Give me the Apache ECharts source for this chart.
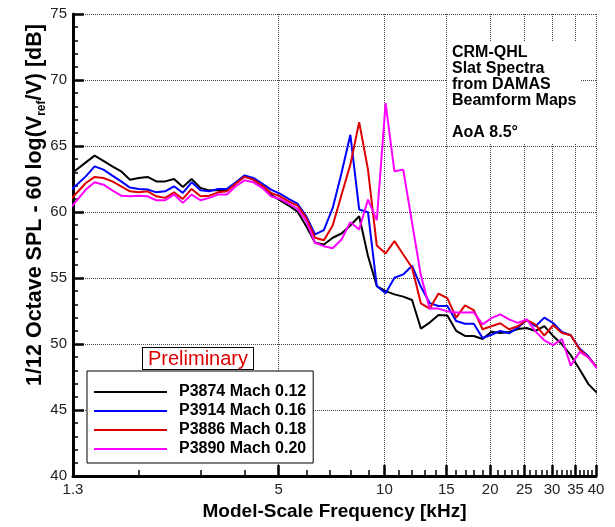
<!DOCTYPE html>
<html>
<head>
<meta charset="utf-8">
<title>CRM-QHL Slat Spectra</title>
<script src="https://cdn.jsdelivr.net/npm/echarts@6/dist/echarts.min.js"></script>
<style>
  html, body { margin: 0; padding: 0; background: #fff; }
  #main { width: 615px; height: 527px; }
</style>
</head>
<body>
<div id="main"></div>
<script>
// 1/12-octave band centres [kHz]
var freqKHz = [1.260, 1.335, 1.414, 1.498, 1.587, 1.682, 1.782, 1.888, 2.000, 2.119,
  2.245, 2.378, 2.520, 2.670, 2.828, 2.997, 3.175, 3.364, 3.564, 3.776,
  4.000, 4.238, 4.490, 4.757, 5.040, 5.339, 5.657, 5.993, 6.350, 6.727,
  7.127, 7.551, 8.000, 8.476, 8.980, 9.514, 10.079, 10.679, 11.314, 11.986,
  12.699, 13.454, 14.254, 15.102, 16.000, 16.951, 17.959, 19.027, 20.159, 21.357,
  22.627, 23.973, 25.398, 26.909, 28.509, 30.204, 32.000, 33.903, 35.919, 38.055,
  40.317];

// normalized SPL [dB], one value per band
var p3874 = [62.72, 63.24, 63.76, 64.27, 63.87, 63.46, 63.08, 62.45, 62.58, 62.66,
  62.32, 62.32, 62.5, 61.9, 62.5, 61.83, 61.64, 61.64, 61.64, 62.2,
  62.76, 62.45, 61.95, 61.32, 60.89, 60.49, 60.03, 58.92, 57.67, 57.54,
  58.05, 58.37, 58.98, 59.68, 56.66, 54.39, 54.01, 53.76, 53.59, 53.33,
  51.17, 51.62, 52.2, 52.15, 51.0, 50.61, 50.61, 50.38, 50.93, 50.84,
  50.91, 51.14, 51.21, 50.99, 51.36, 50.61, 49.98, 49.15, 48.09, 46.96,
  46.28];
var p3914 = [61.47, 62.08, 62.7, 63.46, 63.21, 62.75, 62.32, 61.85, 61.75, 61.7,
  61.49, 61.57, 61.95, 61.45, 62.25, 61.64, 61.57, 61.75, 61.75, 62.25,
  62.76, 62.58, 62.15, 61.7, 61.39, 60.99, 60.64, 59.68, 58.3, 58.62,
  60.31, 62.96, 65.85, 60.19, 59.98, 54.39, 53.84, 55.02, 55.27, 55.93,
  54.33, 53.1, 52.88, 52.88, 51.74, 51.53, 51.53, 50.45, 50.7, 50.99,
  50.81, 51.24, 51.82, 51.34, 52.0, 51.59, 50.91, 50.66, 49.66, 49.07,
  48.17];
var p3886 = [60.76, 61.48, 62.2, 62.66, 62.58, 62.32, 61.95, 61.57, 61.49, 61.57,
  61.19, 61.07, 61.49, 60.99, 61.75, 61.19, 61.24, 61.49, 61.57, 62.15,
  62.66, 62.45, 62.0, 61.45, 61.19, 60.81, 60.49, 59.56, 58.05, 57.86,
  58.98, 61.3, 63.59, 66.81, 63.21, 57.46, 56.86, 57.79, 56.78, 55.78,
  53.08, 52.68, 53.82, 53.48, 52.0, 52.93, 52.57, 51.12, 51.34, 51.57,
  51.12, 51.34, 51.82, 51.46, 50.64, 51.42, 50.84, 50.66, 49.58, 49.0,
  48.2];
var p3890 = [60.12, 60.9, 61.7, 62.25, 62.07, 61.64, 61.24, 61.19, 61.24, 61.19,
  60.89, 60.89, 61.32, 60.69, 61.32, 60.89, 61.07, 61.32, 61.32, 61.95,
  62.4, 62.25, 61.83, 61.19, 60.99, 60.64, 60.24, 59.3, 57.67, 57.41,
  57.25, 57.92, 59.23, 58.67, 60.94, 59.38, 68.25, 63.08, 63.21, 59.2,
  55.2, 52.68, 52.68, 52.48, 52.38, 52.38, 52.4, 51.49, 51.96, 52.25,
  51.87, 51.6, 51.87, 50.96, 50.28, 49.91, 50.38, 48.36, 49.4, 48.98,
  48.14];

var seriesNames = ['P3874 Mach 0.12', 'P3914 Mach 0.16', 'P3886 Mach 0.18', 'P3890 Mach 0.20'];
var seriesValues = [p3874, p3914, p3886, p3890];
var seriesColors = ['#000000', '#0000ff', '#dd0000', '#ff00ff'];

var xLabelValues = [1.3, 5, 10, 15, 20, 25, 30, 35, 40];
var xMajorTicks = [5, 10, 15, 20, 25, 30, 35, 40];
var xMinorTicks = [2, 3, 4, 6, 7, 8, 9, 11, 12, 13, 14, 16, 17, 18, 19, 21, 22, 23, 24,
  26, 27, 28, 29, 31, 32, 33, 34, 36, 37, 38, 39];

var font = '"Liberation Sans", Arial, Helvetica, sans-serif';

function pairs(vals) {
  return freqKHz.map(function (f, i) { return [f, vals[i]]; });
}

var chart = echarts.init(document.getElementById('main'));

var gridLine = { show: true, lineStyle: { type: 'dotted', color: '#444', width: 1 } };

var option = {
  animation: false,
  backgroundColor: '#fff',
  grid: { left: 73, right: 19, top: 14, bottom: 51, containLabel: false, outerBoundsMode: 'none' },
  xAxis: [{
    type: 'log',
    logBase: 10,
    min: 1.3,
    max: 40,
    position: 'bottom',
    axisLine: { show: true, onZero: false, lineStyle: { color: '#000', width: 3 } },
    axisTick: { show: true, inside: true, length: 11, customValues: xMajorTicks,
      lineStyle: { color: '#000', width: 2.5 } },
    axisLabel: { show: true, customValues: xLabelValues, hideOverlap: false, margin: 6,
      color: '#222', fontSize: 15, fontFamily: font,
      formatter: function (v) { return String(Math.round(v * 10) / 10); } },
    splitLine: gridLine,
    minorTick: { show: false },
    minorSplitLine: { show: false },
    name: 'Model-Scale Frequency [kHz]',
    nameLocation: 'middle',
    nameGap: 24,
    nameTextStyle: { fontSize: 19, fontWeight: 'bold', color: '#000', fontFamily: font }
  }, {
    type: 'log',
    logBase: 10,
    min: 1.3,
    max: 40,
    position: 'bottom',
    axisLine: { show: false, onZero: false },
    axisTick: { show: true, inside: true, length: 6, customValues: xMinorTicks,
      lineStyle: { color: '#000', width: 1.5 } },
    axisLabel: { show: false },
    splitLine: { show: false }
  }],
  yAxis: {
    type: 'value',
    min: 40,
    max: 75,
    interval: 5,
    axisLine: { show: true, onZero: false, lineStyle: { color: '#000', width: 3 } },
    axisTick: { show: true, inside: true, length: 11, lineStyle: { color: '#000', width: 2.5 } },
    minorTick: { show: true, splitNumber: 5, length: 5, lineStyle: { color: '#000', width: 1.5 } },
    axisLabel: { margin: 6, color: '#222', fontSize: 15, fontFamily: font },
    splitLine: gridLine
  },
  legend: {
    orient: 'vertical',
    left: 87,
    top: 371,
    padding: [13, 7, 6, 7],
    itemGap: 3,
    icon: 'rect',
    itemWidth: 73,
    itemHeight: 2,
    backgroundColor: '#fff',
    borderColor: '#000',
    borderWidth: 1,
    borderRadius: 0,
    textStyle: { fontSize: 16, fontWeight: 'bold', color: '#000', fontFamily: font,
      lineHeight: 16, padding: [0, 0, 0, 7] },
    data: seriesNames
  },
  graphic: [{
    type: 'rect',
    z: 3,
    shape: { x: 447, y: 42, width: 134, height: 102 },
    style: { fill: '#fff' }
  }, {
    type: 'text',
    z: 5,
    left: 452,
    top: 45,
    style: {
      text: 'CRM-QHL\nSlat Spectra\nfrom DAMAS\nBeamform Maps\n\nAoA 8.5\u00b0',
      fill: '#000', fontSize: 16, fontWeight: 'bold', fontFamily: font, lineHeight: 16
    }
  }, {
    type: 'text',
    z: 5,
    left: 142,
    top: 347,
    style: {
      text: 'Preliminary',
      fill: '#dd0000', fontSize: 20, fontFamily: font, lineHeight: 20,
      backgroundColor: '#fff', borderColor: '#000', borderWidth: 1, padding: [1, 5, 0, 5]
    }
  }, {
    type: 'text',
    z: 5,
    x: 35,
    y: 205,
    rotation: Math.PI / 2,
    style: {
      text: '1/12 Octave SPL - 60 log(V{s|ref}/V) [dB]',
      fill: '#000', fontSize: 21.5, fontWeight: 'bold', fontFamily: font, lineHeight: 26,
      align: 'center', verticalAlign: 'middle', textAlign: 'center', textVerticalAlign: 'middle',
      rich: { s: { fontSize: 12, fontWeight: 'bold', fontFamily: font, lineHeight: 13, verticalAlign: 'bottom' } }
    }
  }],
  series: seriesNames.map(function (name, i) {
    return {
      name: name,
      type: 'line',
      xAxisIndex: 0,
      symbol: 'none',
      clip: true,
      color: seriesColors[i],
      lineStyle: { color: seriesColors[i], width: 2 },
      data: pairs(seriesValues[i])
    };
  })
};

chart.setOption(option);
</script>
</body>
</html>
